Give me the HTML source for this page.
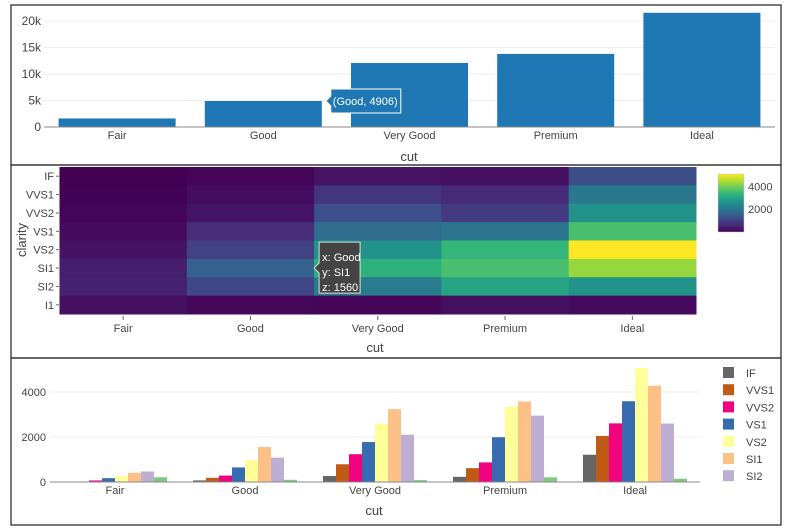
<!DOCTYPE html>
<html><head><meta charset="utf-8"><style>
body{margin:0;background:#fff;}
svg{display:block;font-family:"Liberation Sans",sans-serif;}
</style></head><body>
<svg id="chart" width="788" height="531">
<rect x="11" y="5" width="770" height="160" fill="none" stroke="#222" stroke-width="1.2"/>
<rect x="11" y="165" width="770" height="193" fill="none" stroke="#222" stroke-width="1.2"/>
<rect x="11" y="358" width="770" height="167" fill="none" stroke="#222" stroke-width="1.2"/>
<g id="g1"></g><g id="g2"></g><g id="g3"></g>
</svg>
<script>
const cuts=["Fair","Good","Very Good","Premium","Ideal"];
const cutCounts=[1610,4906,12082,13791,21551];
const clarities=["IF","VVS1","VVS2","VS1","VS2","SI1","SI2","I1"];
const countFair=[9,17,69,170,261,408,466,210];
const countGood=[71,186,286,648,978,1560,1081,96];
const countVeryGood=[268,789,1235,1775,2591,3240,2100,84];
const countPremium=[230,616,870,1989,3357,3575,2949,205];
const countIdeal=[1212,2047,2606,3589,5071,4282,2598,146];
const counts=[countFair,countGood,countVeryGood,countPremium,countIdeal];
const topTicks=[0,5000,10000,15000,20000];
const topTickLabels=["0","5k","10k","15k","20k"];
const bottomTicks=[0,2000,4000];
const cbTicks=[2000,4000];
const clarColors=["#666666","#BF5B17","#F0027F","#386CB0","#FFFF99","#FDC086","#BEAED4","#7FC97F"];
const NS="http://www.w3.org/2000/svg";
function mk(parent,tag,attrs,text){const e=document.createElementNS(NS,tag);for(const k in attrs)e.setAttribute(k,attrs[k]);if(text!==undefined)e.textContent=text;parent.appendChild(e);return e;}
const viridis=[[68,1,84],[72,40,120],[62,74,137],[49,104,142],[38,130,142],[31,158,137],[53,183,121],[109,205,89],[180,222,44],[253,231,37]];
function vcol(t){t=Math.max(0,Math.min(1,t));const p=t*(viridis.length-1);const i=Math.min(Math.floor(p),viridis.length-2);const f=p-i;const a=viridis[i],b=viridis[i+1];return "rgb("+a.map((v,k)=>Math.round(v+(b[k]-v)*f)).join(",")+")";}

// Panel 1
const g1=document.getElementById('g1');
const x1L=44,x1W=146.2,y1_0=127,y1pk=106/20000;
const y1=v=>y1_0-v*y1pk;
topTicks.forEach((t,i)=>{
 if(t>0){const l=mk(g1,'line',{x1:x1L,x2:775,y1:y1(t),y2:y1(t),stroke:'#eee'});}
 const tx=mk(g1,'text',{x:41,y:y1(t)+4,'text-anchor':'end','font-size':12,fill:'#444'},topTickLabels[i]);
 
});
cuts.forEach((c,i)=>{
 const cx=x1L+x1W*(i+0.5);
 const r=mk(g1,'rect',{x:cx-58.5,y:y1(cutCounts[i]),width:117,height:y1_0-y1(cutCounts[i]),fill:'#1f77b4'});
 
 const t=mk(g1,'text',{x:cx,y:139,'text-anchor':'middle','font-size':11,fill:'#444'},c);
 
});
let ax=mk(g1,'line',{x1:x1L,x2:775,y1:y1_0,y2:y1_0,stroke:'#888'});
let tl=mk(g1,'text',{x:409,y:161,'text-anchor':'middle','font-size':13,fill:'#444'},'cut');
// tooltip
const gx=x1L+x1W*1.5+58.5, gy=y1(cutCounts[1]);
let tp=mk(g1,'path',{d:`M${gx+4},${gy} l5,-5 v-7 h70 v24 h-70 v-7 z`,fill:'#1f77b4',stroke:'#fff'});
let tt=mk(g1,'text',{x:gx+11,y:gy+4,'font-size':11,fill:'#fff'},'(Good, '+cutCounts[1]+')');

// Panel 2 heatmap
const g2=document.getElementById('g2');
const x2L=59.5,x2W=127.3,y2T=167,rowH=147/8;
const zmax=Math.max(...counts.flat()),zmin=Math.min(...counts.flat());
cuts.forEach((c,i)=>{
 clarities.forEach((cl,j)=>{
  const r=mk(g2,'rect',{x:x2L+x2W*i,y:y2T+rowH*j,width:x2W+0.5,height:rowH+0.5,fill:vcol((counts[i][j]-zmin)/(zmax-zmin))});
  
 });
 const cx=x2L+x2W*(i+0.5);
 mk(g2,'line',{x1:cx,x2:cx,y1:316,y2:320,stroke:'#666'});
 const t=mk(g2,'text',{x:cx,y:332,'text-anchor':'middle','font-size':11,fill:'#444'},c);
 
});
clarities.forEach((cl,j)=>{
 const cy=y2T+rowH*(j+0.5);
 mk(g2,'line',{x1:56,x2:59,y1:cy,y2:cy,stroke:'#666'});
 const t=mk(g2,'text',{x:54,y:cy+4,'text-anchor':'end','font-size':11,fill:'#444'},cl);
 
});
tl=mk(g2,'text',{x:375,y:352,'text-anchor':'middle','font-size':13,fill:'#444'},'cut');
tl=mk(g2,'text',{x:0,y:0,'text-anchor':'middle','font-size':13,fill:'#444',transform:'translate(26,240) rotate(-90)'},'clarity');
// colorbar
const defs=mk(g2,'defs',{});const lg=mk(defs,'linearGradient',{id:'vg',x1:0,y1:1,x2:0,y2:0});
viridis.forEach((c,k)=>mk(lg,'stop',{offset:k/(viridis.length-1),'stop-color':'rgb('+c.join(',')+')'}));
const cbT=174,cbB=232,cbY=v=>cbB-(v-zmin)/(zmax-zmin)*(cbB-cbT);
let cb=mk(g2,'rect',{x:718,y:cbT,width:26,height:cbB-cbT,fill:'url(#vg)',stroke:'#ccc','stroke-width':0.5});
cbTicks.forEach(t=>{const e=mk(g2,'text',{x:748,y:cbY(t)+4,'font-size':11,fill:'#444'},String(t));});
// heatmap tooltip
const hx=x2L+x2W*2, hy=y2T+rowH*5.5;
tp=mk(g2,'path',{d:`M${hx},${hy} l5,-5 v-21 h41 v51 h-41 v-20 z`,fill:'#444',stroke:'#ddd'});
["x: Good","y: SI1","z: "+counts[1][5]].forEach((s,k)=>{const e=mk(g2,'text',{x:hx+8,y:hy-11+k*15+4,'font-size':11,fill:'#fff'},s);});

// Panel 3 grouped bars
const g3=document.getElementById('g3');
const x3L=50,x3W=130,y3_0=482,y3pk=90/4000;
const y3=v=>y3_0-v*y3pk;
bottomTicks.forEach(t=>{
 if(t>0){const l=mk(g3,'line',{x1:x3L,x2:700,y1:y3(t),y2:y3(t),stroke:'#eee'});}
 const e=mk(g3,'text',{x:46,y:y3(t)+4,'text-anchor':'end','font-size':11,fill:'#444'},String(t));
});
const bw=x3W*0.8/8;
cuts.forEach((c,i)=>{
 const gl=x3L+x3W*i+x3W*0.1;
 clarities.forEach((cl,j)=>{
  const v=counts[i][j];
  const r=mk(g3,'rect',{x:gl+bw*j,y:y3(v),width:bw,height:y3_0-y3(v),fill:clarColors[j]});
  
 });
 const t=mk(g3,'text',{x:x3L+x3W*(i+0.5),y:494,'text-anchor':'middle','font-size':11,fill:'#444'},c);
 
});
ax=mk(g3,'line',{x1:x3L,x2:700,y1:y3_0,y2:y3_0,stroke:'#888'});
tl=mk(g3,'text',{x:374,y:515,'text-anchor':'middle','font-size':13,fill:'#444'},'cut');
clarities.slice(0,7).forEach((cl,j)=>{
 const ly=367+j*17.2;
 const s=mk(g3,'rect',{x:723,y:ly,width:11,height:11,fill:clarColors[j]});
 const e=mk(g3,'text',{x:746,y:ly+10,'font-size':11,fill:'#444'},cl);
});
</script>
</body></html>
